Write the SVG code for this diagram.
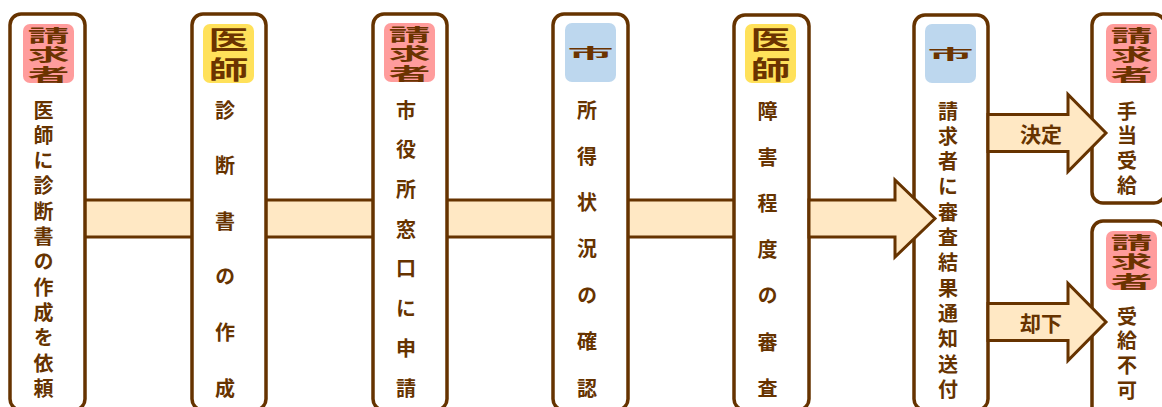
<svg xmlns="http://www.w3.org/2000/svg" width="1162" height="407" viewBox="0 0 1162 407">
<style>
.box{fill:#fff;stroke:#663300;stroke-width:3.5}
.bar{fill:#FFE8C4}
.ln{stroke:#663300;stroke-width:3;fill:none}
.arr{fill:#FFE8C4;stroke:#663300;stroke-width:3;stroke-linejoin:miter}
.t{font-family:"Noto Sans CJK JP","Noto Sans",sans-serif;font-size:20px;font-weight:bold;fill:#663300;writing-mode:vertical-rl}
.z{letter-spacing:0}
.lbl{font-family:"Noto Sans CJK JP","Noto Sans",sans-serif;font-size:21px;font-weight:bold;fill:#663300;text-anchor:middle;dominant-baseline:central}
.pk{fill:#FF9C9C}
.ye{fill:#FFE15A}
.bl{fill:#BDD7EE}
.bs{font-family:"Noto Sans CJK JP",sans-serif;font-size:17px;font-weight:bold;fill:#6B3300;writing-mode:vertical-rl;letter-spacing:2.5px}
.bd{font-family:"Noto Sans CJK JP",sans-serif;font-size:25px;font-weight:bold;fill:#6B3300;writing-mode:vertical-rl;letter-spacing:5px}
.bc{font-family:"Noto Sans CJK JP",sans-serif;font-size:16px;font-weight:bold;fill:#6B3300;text-anchor:middle;dominant-baseline:central}
</style>
<defs>
<g id="b-sei">
<rect class="pk" x="0" y="0" width="51" height="59" rx="7"/>
<text class="bs" transform="translate(25.5 3) scale(2.45 1)" x="0" y="0">請求<tspan class="z">者</tspan></text>
</g>
<g id="b-ishi">
<rect class="ye" x="0" y="0" width="51" height="59" rx="7"/>
<text class="bd" transform="translate(25.5 3.5) scale(1.6 1)" x="0" y="0">医<tspan class="z">師</tspan></text>
</g>
<g id="b-shi">
<rect class="bl" x="0" y="0" width="51" height="59" rx="7"/>
<text class="bc" x="0" y="0" transform="translate(25.5 29.5) scale(1 0.85)" textLength="46" lengthAdjust="spacingAndGlyphs">市</text>
</g>
</defs>

<g id="connectors">
<rect class="bar" x="85" y="200" width="107" height="37"/>
<line class="ln" x1="85" y1="200" x2="192" y2="200"/><line class="ln" x1="85" y1="237" x2="192" y2="237"/>
<rect class="bar" x="266" y="200" width="107" height="37"/>
<line class="ln" x1="266" y1="200" x2="373" y2="200"/><line class="ln" x1="266" y1="237" x2="373" y2="237"/>
<rect class="bar" x="447" y="200" width="106" height="37"/>
<line class="ln" x1="447" y1="200" x2="553" y2="200"/><line class="ln" x1="447" y1="237" x2="553" y2="237"/>
<rect class="bar" x="628" y="200" width="106" height="37"/>
<line class="ln" x1="628" y1="200" x2="734" y2="200"/><line class="ln" x1="628" y1="237" x2="734" y2="237"/>
</g>

<g id="n1">
<rect class="box" x="10" y="14" width="75" height="396" rx="11"/>
<use href="#b-sei" x="23" y="24"/>
<text class="t" x="43.5" y="100" style="letter-spacing:5.3px">医師に診断書の作成を依<tspan class="z">頼</tspan></text>
</g>

<g id="n2">
<rect class="box" x="192" y="14" width="74" height="396" rx="11"/>
<use href="#b-ishi" x="203" y="24"/>
<text class="t" x="225" y="100" style="letter-spacing:35.6px">診断書の作<tspan class="z">成</tspan></text>
</g>

<g id="n3">
<rect class="box" x="373" y="14" width="74" height="396" rx="11"/>
<use href="#b-sei" x="384" y="23"/>
<text class="t" x="406" y="100" style="letter-spacing:19.7px">市役所窓口に申<tspan class="z">請</tspan></text>
</g>

<g id="n4">
<rect class="box" x="553" y="14" width="75" height="396" rx="11"/>
<use href="#b-shi" x="565" y="23"/>
<text class="t" x="587" y="100" style="letter-spacing:26.3px">所得状況の確<tspan class="z">認</tspan></text>
</g>

<g id="n5">
<rect class="box" x="734" y="15" width="75" height="395" rx="11"/>
<use href="#b-ishi" x="745" y="24"/>
<text class="t" x="767.5" y="101" style="letter-spacing:26.2px">障害程度の審<tspan class="z">査</tspan></text>
</g>

<g id="n6">
<rect class="box" x="914" y="15" width="74" height="395" rx="11"/>
<use href="#b-shi" x="925" y="24"/>
<text class="t" x="948" y="101" style="letter-spacing:5.3px">請求者に審査結果通知送<tspan class="z">付</tspan></text>
</g>

<g id="n7">
<rect class="box" x="1092" y="14" width="73" height="189" rx="11"/>
<use href="#b-sei" x="1106" y="24"/>
<text class="t" x="1127" y="101" style="letter-spacing:4.7px">手当受<tspan class="z">給</tspan></text>
</g>

<g id="n8">
<rect class="box" x="1092" y="221" width="73" height="200" rx="11"/>
<use href="#b-sei" x="1106" y="231"/>
<text class="t" x="1127" y="306" style="letter-spacing:4.7px">受給不<tspan class="z">可</tspan></text>
</g>

<g id="arrows">
<polygon class="arr" points="809,200 895,200 895,180 935,218.5 895,257 895,237 809,237"/>
<polygon class="arr" points="988,114.5 1068,114.5 1068,94.5 1106,133 1068,171.5 1068,151.5 988,151.5"/>
<text class="lbl" x="1041" y="133">決定</text>
<polygon class="arr" points="988,303.5 1068,303.5 1068,283.5 1106,322 1068,360.5 1068,340.5 988,340.5"/>
<text class="lbl" x="1041" y="322">却下</text>
</g>
</svg>
